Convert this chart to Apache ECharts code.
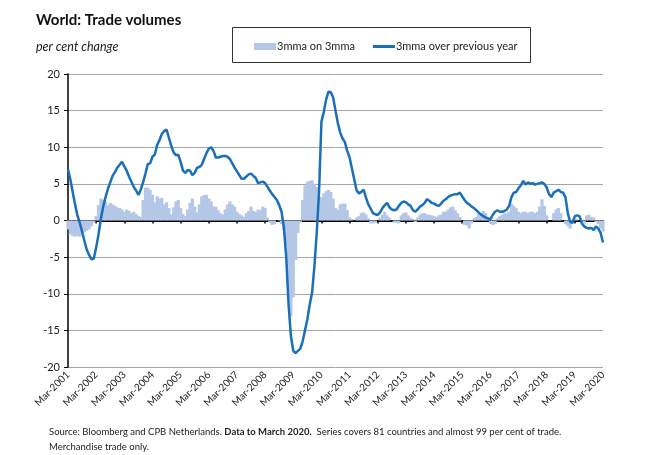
<!DOCTYPE html>
<html>
<head>
<meta charset="utf-8">
<script src="https://cdn.jsdelivr.net/npm/echarts@6/dist/echarts.min.js"></script>
<style>
html,body{margin:0;padding:0;background:#fff;}
#chart{width:650px;height:455px;}
</style>
</head>
<body>
<div id="chart"></div>
<script>
// Category range: Mar-2001 .. Mar-2020 (monthly)
const monthNames = ['Jan','Feb','Mar','Apr','May','Jun','Jul','Aug','Sep','Oct','Nov','Dec'];
const startYear = 2001, startMonth = 2, endYear = 2020, endMonth = 2;
const tickLabels = ['Mar-2001','Mar-2002','Mar-2003','Mar-2004','Mar-2005','Mar-2006','Mar-2007',
  'Mar-2008','Mar-2009','Mar-2010','Mar-2011','Mar-2012','Mar-2013','Mar-2014','Mar-2015',
  'Mar-2016','Mar-2017','Mar-2018','Mar-2019','Mar-2020'];

// 3mma on 3mma (bars), Mar-2001 onwards, one row per year (Mar..Feb)
const mmaOn3mma = [
  -1.2,-1.9,-2.1,-2.2,-2.1,-2.2,-2.0,-1.6,-1.4,-1.2,-0.8,-0.3,
   0.6, 2.1, 3.0, 2.8, 2.6, 2.1, 2.4, 2.2, 2.0, 1.8, 1.7, 1.5,
   1.2, 1.5, 1.3, 1.0, 1.2, 0.9, 0.6, 0.5, 2.8, 4.5, 4.5, 4.2,
   3.5, 2.5, 3.3, 3.0, 3.1, 2.2, 2.5, 1.7, 0.8, 1.8, 2.6, 2.8,
   1.7, 0.9, 0.6, 1.5, 2.4, 3.0, 1.9, 1.1, 2.2, 3.3, 3.5, 3.5,
   3.0, 2.6, 1.9, 1.9, 1.4, 1.0, 0.8, 1.5, 2.2, 2.6, 2.2, 1.9,
   1.2, 0.9, 0.7, 0.5, 1.0, 1.3, 1.9, 1.3, 1.2, 1.5, 1.4, 1.9,
   1.7, 0.4,-0.3,-0.6,-0.5, 0.0,-0.1,-0.5,-1.3,-3.5,-10.6,-13.1,
 -10.5,-5.4,-1.7,-0.3, 2.8, 4.8, 5.3, 5.4, 5.5, 5.0, 4.6, 3.3,
   3.2, 3.7, 4.0, 4.2, 3.9, 3.0, 1.7, 1.5, 2.2, 2.3, 2.3, 1.4,
   0.4, 0.2, 0.0, 0.4, 0.6, 1.0, 1.1, 0.8, 0.3,-0.4,-0.4,-0.3,
   0.0, 0.4, 0.8, 1.2, 0.7, 0.4, 0.0,-0.3,-0.3,-0.4, 0.7, 1.0,
   1.1, 0.7, 0.4, 0.2,-0.2, 0.4, 0.8, 1.0, 1.0, 0.8, 0.8, 0.7,
   0.6, 0.5, 0.7, 0.8, 1.2, 1.2, 1.5, 1.8, 1.9, 1.4, 1.0, 0.5,
   0.0,-0.6,-0.7,-1.1,-0.4, 0.3, 0.5, 1.0, 1.0, 1.3, 1.0, 0.3,
  -0.4,-0.6,-0.5, 0.3, 0.6, 0.8, 1.0, 1.0, 1.2, 2.3, 2.0, 1.7,
   1.2, 1.0, 1.2, 1.2, 1.0, 1.2, 1.2, 1.0, 1.2, 1.9, 2.9, 2.0,
   0.7, 0.0, 0.0, 1.0, 1.5, 1.7, 1.0, 0.0,-0.5,-0.8,-1.1,-0.5,
   0.3, 0.2, 0.0,-0.4,-0.4, 0.7, 0.8, 0.5, 0.4,-0.2,-0.5,-1.1,
  -1.5
];

// 3mma over previous year (line)
const mmaOverPrevYear = [
   7.0, 5.6, 3.9, 2.2, 0.7,-0.3,-1.5,-2.8,-4.0,-4.7,-5.3,-5.2,
  -3.7,-1.9, 0.2, 1.9, 3.2, 4.3, 5.2, 6.1, 6.6, 7.2, 7.6, 8.0,
   7.4, 6.8, 6.0, 5.3, 4.6, 4.1, 3.5, 4.2, 5.2, 6.4, 7.7, 7.8,
   8.7, 9.0,10.3,11.0,11.8,12.2,12.4,11.3,10.2, 9.3, 8.9, 9.0,
   8.0, 6.8, 6.5, 6.9, 6.8, 6.2, 6.5, 7.2, 7.3, 7.6, 8.4, 9.2,
   9.8,10.0, 9.5, 8.6, 8.6, 8.7, 8.8, 8.8, 8.7, 8.4, 7.8, 7.2,
   6.7, 6.2, 5.7, 5.7, 6.0, 6.3, 6.4, 6.1, 5.8, 5.1, 5.2, 5.3,
   5.1, 4.6, 4.1, 3.6, 3.2, 2.8, 2.1, 1.2,-0.9,-5.0,-11.5,-15.8,
 -17.8,-18.1,-17.8,-17.5,-16.5,-15.0,-13.5,-11.5,-9.9,-6.3,-1.7, 4.0,
  13.5,14.8,16.5,17.6,17.5,16.8,15.0,13.3,12.0,11.2,10.7, 9.5,
   8.6, 7.1, 5.6, 4.1, 3.7, 3.9, 4.2, 3.1, 2.2, 1.6, 1.0, 0.85,
   0.75,1.1, 1.7, 2.1, 2.4, 1.8, 1.5, 1.4, 1.5, 2.0, 2.4, 2.6,
   2.5, 2.2, 2.0, 1.4, 1.2, 1.5, 1.9, 2.1, 2.4, 2.9, 2.7, 2.4,
   2.3, 2.1, 2.0, 2.3, 2.7, 2.9, 3.2, 3.4, 3.5, 3.6, 3.6, 3.8,
   3.3, 2.8, 2.4, 2.2, 1.9, 1.7, 1.4, 1.1, 0.8, 0.6, 0.4, 0.3,
   0.15,0.75,1.2, 1.4, 1.2, 1.2, 1.3, 1.5, 2.0, 3.2, 3.8, 3.9,
   4.4, 4.8, 5.4, 4.9, 5.2, 5.0, 5.1, 4.9, 5.0, 5.1, 5.2, 5.0,
   4.5, 3.6, 3.2, 3.8, 4.0, 4.2, 3.9, 3.8, 3.2, 1.0,-0.2,-0.3,
   0.6, 0.7, 0.6,-0.4,-0.8,-1.0,-1.1,-1.0,-1.3,-0.8,-1.1,-1.7,
  -3.0
];

const categories = [];
for (let y = startYear, m = startMonth; y < endYear || (y === endYear && m <= endMonth); ) {
  categories.push(monthNames[m] + '-' + y);
  m++; if (m > 11) { m = 0; y++; }
}

const FONT = 'Lato, "Open Sans", sans-serif';
const BAR = '#b4c7e7';
const chart = echarts.init(document.getElementById('chart'), null, {renderer: 'canvas'});
chart.setOption({
  animation: false,
  backgroundColor: '#ffffff',
  textStyle: {fontFamily: FONT},
  title: [
    {text: 'World: Trade volumes', left: 31, top: 8,
     textStyle: {fontFamily: FONT, fontSize: 15, fontWeight: 'bold', color: '#111'}},
    {text: 'per cent change', left: 31, top: 35,
     textStyle: {fontFamily: FONT, fontSize: 12.5, fontStyle: 'italic', fontWeight: 'normal', color: '#222'}},
    {text: 'Source: Bloomberg and CPB Netherlands. {b|Data to March 2020.}  Series covers 81 countries and almost 99 per cent of trade.\nMerchandise trade only.',
     left: 44, top: 419,
     textStyle: {fontFamily: FONT, fontSize: 9.5, fontWeight: 'normal', color: '#222', lineHeight: 15,
       rich: {b: {fontFamily: FONT, fontSize: 9.5, fontWeight: 'bold', color: '#222'}}}}
  ],
  graphic: [
    {type: 'rect', left: 230, top: 25, shape: {width: 298, height: 35},
     style: {fill: 'none', stroke: '#333', lineWidth: 1}, silent: true}
  ],
  legend: {
    left: 249, top: 36, itemWidth: 22, itemHeight: 7, itemGap: 18,
    textStyle: {fontFamily: FONT, fontSize: 11, color: '#222', padding: [0,0,0,-4]},
    data: [
      {name: '3mma on 3mma', icon: 'rect', itemStyle: {color: BAR, borderWidth: 0}},
      {name: '3mma over previous year', icon: 'path://M0,0L22,0L22,3L0,3Z'}
    ]
  },
  grid: {left: 68, right: 47, top: 74, bottom: 88, containLabel: false},
  xAxis: [
    {type: 'category', data: categories, boundaryGap: false, position: 'bottom',
     axisLine: {onZero: true, lineStyle: {color: '#000', width: 2}},
     axisTick: {show: true, length: 3, interval: (i) => i % 12 === 0, lineStyle: {color: '#000', width: 1.5}},
     axisLabel: {show: false}, splitLine: {show: false}},
    {type: 'category', data: categories, boundaryGap: false, position: 'bottom',
     axisLine: {show: false, onZero: false}, axisTick: {show: false},
     axisLabel: {show: true, rotate: 45, margin: 6, fontSize: 10, color: '#222', fontFamily: FONT,
       interval: (i) => i % 12 === 0,
       formatter: (v, i) => tickLabels[Math.round(i / 12)]},
     splitLine: {show: false}}
  ],
  yAxis: {
    type: 'value', min: -20, max: 20, interval: 5,
    axisLine: {show: true, lineStyle: {color: '#000', width: 1.5}},
    axisTick: {show: true, length: 4, lineStyle: {color: '#000'}},
    axisLabel: {fontSize: 11, color: '#222', margin: 8, fontFamily: FONT},
    splitLine: {show: true, lineStyle: {color: '#a6a6a6', width: 1}}
  },
  series: [
    {name: '3mma on 3mma', type: 'bar', xAxisIndex: 0, data: mmaOn3mma,
     barWidth: 3.2, barGap: '-100%',
     itemStyle: {color: BAR}, z: 2},
    {name: '3mma over previous year', type: 'line', xAxisIndex: 0, data: mmaOverPrevYear,
     showSymbol: false, symbol: 'none',
     lineStyle: {color: '#1a6fba', width: 2.5}, itemStyle: {color: '#1a6fba'}, z: 3}
  ]
});
</script>
</body>
</html>
